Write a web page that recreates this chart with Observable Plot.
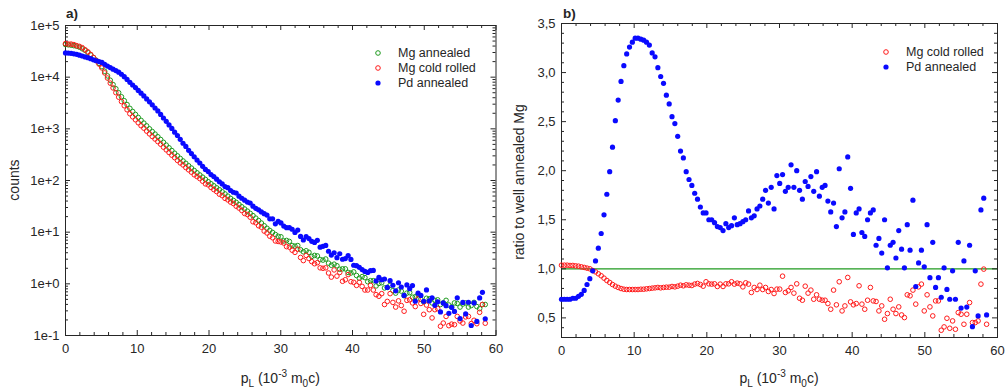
<!DOCTYPE html>
<html>
<head>
<meta charset="utf-8">
<style>
  html, body { margin: 0; padding: 0; background: #fff; }
  #chart { display: flex; width: 1008px; height: 391px; }
</style>
<script src="https://cdn.jsdelivr.net/npm/d3@7"></script>
<script src="https://cdn.jsdelivr.net/npm/@observablehq/plot@0.6"></script>
</head>
<body>
<div id="chart"></div>
<script>
// ---------------- data ----------------
// momentum channel width (10^-3 m0c); point i sits at p = i * channelWidth
const channelWidth = 0.39;

// panel a) counts
const mgAnnealed = [
  4.27e4, 4.23e4, 4.17e4, 4.07e4, 3.98e4, 3.80e4, 3.55e4, 3.31e4, 3.02e4, 2.69e4,
  2.40e4, 2.12e4, 1.85e4, 1.60e4, 1.30e4, 1.06e4, 8710, 7190, 5970, 4990,
  4170, 3500, 2950, 2490, 2170, 1900, 1660, 1460, 1290, 1140,
  1000, 887, 791, 703, 622, 548, 484, 429, 380, 337,
  300, 267, 239, 215, 193, 174, 156, 141, 128, 116,
  105, 94.8, 86.5, 79.1, 72.1, 66.2, 60.4, 55.0, 49.8, 45.1,
  41.2, 37.7, 34.3, 31.0, 28.1, 25.5, 23.1, 20.9, 18.7, 16.8,
  15.0, 13.3, 11.9, 10.8, 9.89, 9.02, 8.32, 8.13, 6.76, 6.92,
  6.61, 5.50, 5.37, 5.50, 4.57, 4.17, 4.37, 4.07, 3.39, 3.55,
  3.47, 2.95, 2.88, 3.02, 2.51, 2.29, 2.40, 2.24, 1.91, 1.95,
  1.95, 1.66, 1.62, 1.70, 1.45, 1.29, 1.38, 1.32, 1.10, 1.15,
  1.15, 0.912, 1.02, 1.05, 0.832, 0.851, 0.933, 0.741, 0.661, 0.759,
  0.724, 0.589, 0.661, 0.676, 0.550, 0.562, 0.617, 0.501, 0.447, 0.525,
  0.513, 0.427, 0.479, 0.490, 0.398, 0.427, 0.479, 0.389, 0.355, 0.427,
  0.417, 0.355, 0.407, 0.427, 0.355, 0.380, 0.437, 0.363, 0.331, 0.398,
  0.398
];
const mgColdRolled = [
  4.47e4, 4.37e4, 4.37e4, 4.27e4, 4.07e4, 3.94e4, 3.72e4, 3.39e4, 3.09e4, 2.75e4,
  2.40e4, 2.09e4, 1.79e4, 1.51e4, 1.21e4, 9620, 7670, 6190, 5010, 4100,
  3370, 2800, 2340, 1960, 1710, 1500, 1310, 1150, 1030, 904,
  800, 710, 635, 566, 504, 442, 392, 348, 309, 277,
  245, 219, 200, 178, 161, 145, 129, 119, 109, 97.0,
  86.1, 82.4, 73.3, 66.7, 61.1, 54.3, 50.9, 45.1, 42.2, 38.2,
  35.8, 31.8, 29.3, 26.3, 23.0, 21.9, 19.5, 15.9, 15.2, 13.3,
  12.5, 10.5, 9.64, 8.34, 7.80, 6.75, 6.61, 6.46, 6.17, 5.25,
  5.13, 4.47, 4.07, 4.68, 3.24, 2.82, 3.55, 3.09, 2.69, 2.45,
  2.57, 2.04, 2.00, 2.04, 1.62, 1.35, 1.86, 1.41, 1.66, 1.12,
  1.20, 1.51, 1.10, 1.07, 0.933, 1.07, 0.891, 0.759, 0.759, 0.933,
  0.759, 0.617, 0.575, 0.646, 0.398, 0.457, 0.646, 0.437, 0.355, 0.468,
  0.380, 0.295, 0.479, 0.490, 0.427, 0.363, 0.513, 0.417, 0.257, 0.389,
  0.316, 0.219, 0.316, 0.331, 0.151, 0.174, 0.234, 0.155, 0.166, 0.162,
  0.234, 0.191, 0.174, 0.229, 0.234, 0.170, 0.197, 0.169, 0.281, 0.397,
  0.173
];
const pdAnnealed = [
  2.94e4, 2.92e4, 2.89e4, 2.83e4, 2.77e4, 2.67e4, 2.57e4, 2.46e4, 2.38e4, 2.28e4,
  2.17e4, 2.08e4, 2.00e4, 1.93e4, 1.77e4, 1.64e4, 1.53e4, 1.43e4, 1.34e4, 1.25e4,
  1.14e4, 1.02e4, 9060, 7940, 7060, 6280, 5550, 4900, 4330, 3790,
  3330, 2910, 2530, 2220, 1900, 1620, 1400, 1190, 1020, 861,
  743, 627, 526, 457, 384, 332, 288, 249, 218, 188,
  164, 149, 130, 119, 106, 94.6, 85.7, 76.4, 72.6, 64.0,
  59.3, 57.3, 49.7, 45.3, 41.6, 38.3, 36.7, 31.8, 28.9, 27.1,
  24.6, 22.8, 21.4, 18.1, 18.1, 14.5, 16.2, 15.1, 13.1, 12.2,
  12.2, 11.4, 9.86, 11.0, 8.28, 7.05, 8.18, 7.50, 6.64, 6.34,
  6.95, 5.12, 5.31, 5.55, 4.27, 3.60, 4.00, 3.21, 3.82, 2.99,
  3.08, 3.52, 2.97, 2.29, 2.25, 2.09, 1.89, 1.74, 1.66, 1.80,
  1.82, 1.14, 1.33, 1.20, 1.24, 0.853, 1.15, 0.938, 0.731, 1.05,
  0.869, 0.597, 0.951, 0.807, 0.925, 0.461, 0.659, 0.596, 0.459, 0.762,
  0.466, 0.538, 0.384, 0.450, 0.286, 0.428, 0.378, 0.269, 0.351, 0.293,
  0.535, 0.213, 0.436, 0.261, 0.440, 0.156, 0.428, 0.187, 0.533, 0.685,
  0.211
];

// panel b) ratio to well annealed Mg
const ratioMgColdRolled = [
  1.037, 1.037, 1.037, 1.034, 1.034, 1.03, 1.027, 1.02, 1.014, 1.007,
  1.0, 0.983, 0.969, 0.949, 0.929, 0.905, 0.881, 0.861, 0.84, 0.823,
  0.81, 0.799, 0.792, 0.789, 0.789, 0.789, 0.789, 0.789, 0.792, 0.792,
  0.796, 0.799, 0.803, 0.806, 0.81, 0.806, 0.81, 0.813, 0.813, 0.82,
  0.816, 0.823, 0.833, 0.827, 0.837, 0.833, 0.83, 0.844, 0.851, 0.84,
  0.823, 0.868, 0.847, 0.844, 0.847, 0.82, 0.844, 0.82, 0.847, 0.847,
  0.868, 0.844, 0.854, 0.847, 0.816, 0.857, 0.844, 0.759, 0.81, 0.789,
  0.833, 0.789, 0.81, 0.769, 0.789, 0.748, 0.793, 0.793, 0.925, 0.759,
  0.776, 0.81, 0.752, 0.847, 0.70, 0.68, 0.823, 0.752, 0.783, 0.69,
  0.735, 0.69, 0.68, 0.68, 0.646, 0.588, 0.783, 0.633, 0.868, 0.571,
  0.622, 0.912, 0.663, 0.633, 0.646, 0.827, 0.64, 0.588, 0.68, 0.81,
  0.673, 0.667, 0.571, 0.622, 0.486, 0.544, 0.69, 0.588, 0.544, 0.612,
  0.53, 0.503, 0.735, 0.725, 0.783, 0.64, 0.816, 0.844, 0.571, 0.735,
  0.612, 0.52, 0.673, 0.673, 0.374, 0.408, 0.496, 0.394, 0.469, 0.384,
  0.554, 0.537, 0.435, 0.537, 0.656, 0.452, 0.452, 0.469, 0.844, 0.997,
  0.435
];
const ratioPdAnnealed = [
  0.69, 0.69, 0.69, 0.69, 0.70, 0.70, 0.72, 0.74, 0.78, 0.84,
  0.90, 0.98, 1.08, 1.21, 1.36, 1.55, 1.76, 1.99, 2.24, 2.51,
  2.72, 2.91, 3.07, 3.19, 3.26, 3.31, 3.35, 3.35, 3.34, 3.33,
  3.31, 3.28, 3.20, 3.16, 3.05, 2.96, 2.89, 2.77, 2.68, 2.55,
  2.48, 2.35, 2.20, 2.13, 1.99, 1.91, 1.85, 1.77, 1.71, 1.63,
  1.57, 1.57, 1.50, 1.50, 1.47, 1.43, 1.42, 1.39, 1.46, 1.42,
  1.44, 1.52, 1.45, 1.46, 1.48, 1.50, 1.59, 1.52, 1.54, 1.61,
  1.64, 1.71, 1.80, 1.67, 1.83, 1.61, 1.95, 1.87, 1.96, 1.79,
  1.83, 2.06, 1.83, 2.00, 1.80, 1.71, 1.89, 1.84, 1.94, 1.79,
  1.99, 1.74, 1.83, 1.85, 1.69, 1.58, 1.67, 1.43, 2.02, 1.52,
  1.58, 2.14, 1.82, 1.35, 1.57, 1.61, 1.37, 1.33, 1.50, 1.57,
  1.60, 1.24, 1.31, 1.16, 1.50, 1.01, 1.24, 1.27, 1.11, 1.39,
  1.20, 1.01, 1.45, 1.19, 1.70, 0.82, 1.06, 1.19, 1.02, 1.45,
  0.91, 1.27, 0.81, 0.91, 0.71, 1.01, 0.79, 0.69, 0.98, 0.69,
  1.27, 0.60, 1.08, 0.61, 1.24, 0.41, 0.98, 0.52, 1.60, 1.72,
  0.53
];

// tick labels
const momentumTicks = [0, 10, 20, 30, 40, 50, 60];
const countTicks = [1e-1, 1e0, 1e1, 1e2, 1e3, 1e4, 1e5];
const ratioTicks = [0.5, 1.0, 1.5, 2.0, 2.5, 3.0, 3.5];
const referenceRatio = [1.0];

const seriesNamesA = ["Mg annealed", "Mg cold rolled", "Pd annealed"];
const seriesNamesB = ["Mg cold rolled", "Pd annealed"];

// ---------------- styling ----------------
const GREEN = "#1f9a1f", RED = "#ff1a1a", BLUE = "#0a0aff", INK = "#262626";
const FONT = "Arial, 'Liberation Sans', Helvetica, sans-serif";
const W = 504, H = 391;

const momentum = mgAnnealed.map((_, i) => +(i * channelWidth).toFixed(2));
const rowsA = momentum.map((p, i) => ({p, mgA: mgAnnealed[i], mgC: mgColdRolled[i], pd: pdAnnealed[i]}));
const rowsB = momentum.map((p, i) => ({p, mgC: ratioMgColdRolled[i], pd: ratioPdAnnealed[i]}));

const xMinor = d3.range(0, 61, 2).filter(v => v % 10 !== 0);
const logMinor = [];
for (let e = -1; e < 5; e++) for (let m = 2; m <= 9; m++) logMinor.push(m * Math.pow(10, e));
const ratioMinor = d3.range(3, 36).filter(k => k % 5 !== 0).map(k => k / 10);

function frameTicks(xMaj, xMin, yMaj, yMin, fw, fh) {
  const big = 5, small = 3, o = {stroke: INK, strokeWidth: 1};
  return [
    Plot.tickX(xMaj, {x: d => d, insetTop: fh - big, ...o}),
    Plot.tickX(xMaj, {x: d => d, insetBottom: fh - big, ...o}),
    Plot.tickX(xMin, {x: d => d, insetTop: fh - small, ...o}),
    Plot.tickX(xMin, {x: d => d, insetBottom: fh - small, ...o}),
    Plot.tickY(yMaj, {y: d => d, insetRight: fw - big, ...o}),
    Plot.tickY(yMaj, {y: d => d, insetLeft: fw - big, ...o}),
    Plot.tickY(yMin, {y: d => d, insetRight: fw - small, ...o}),
    Plot.tickY(yMin, {y: d => d, insetLeft: fw - small, ...o}),
    Plot.frame({stroke: INK, strokeWidth: 1})
  ];
}

function xTitle(svg, cx) {
  const t = svg.append("text").attr("x", cx).attr("y", 383).attr("text-anchor", "middle")
    .attr("fill", INK).style("font-size", "14px").style("font-family", FONT);
  t.append("tspan").text("p");
  t.append("tspan").attr("dy", 4).style("font-size", "10px").text("L");
  t.append("tspan").attr("dy", -4).text(" (10");
  t.append("tspan").attr("dy", -6).style("font-size", "10px").text("-3");
  t.append("tspan").attr("dy", 6).text(" m");
  t.append("tspan").attr("dy", 4).style("font-size", "10px").text("0");
  t.append("tspan").attr("dy", -4).text("c)");
}
function yTitle(svg, x, cy, text) {
  svg.append("text").attr("transform", `translate(${x},${cy}) rotate(-90)`).attr("text-anchor", "middle")
    .attr("fill", INK).style("font-size", "14px").style("font-family", FONT).text(text);
}
function panelTag(svg, x, text) {
  svg.append("text").attr("x", x).attr("y", 18).attr("text-anchor", "start").attr("fill", INK)
    .style("font-size", "13.5px").style("font-weight", "bold").style("font-family", FONT).text(text);
}
function legend(svg, x, y0, names, styles) {
  names.forEach((name, k) => {
    const y = y0 + k * 15, s = styles[k];
    svg.append("circle").attr("cx", x).attr("cy", y).attr("r", s.filled ? 2.6 : 2.3)
      .attr("fill", s.filled ? s.color : "none").attr("stroke", s.filled ? "none" : s.color).attr("stroke-width", 1);
    svg.append("text").attr("x", x + 20).attr("y", y).attr("dy", "0.35em").attr("text-anchor", "start")
      .attr("fill", INK).style("font-size", "12.5px").style("font-family", FONT).text(name);
  });
}

// ---------------- panel a ----------------
const mA = {left: 65, right: 8.5, top: 25, bottom: 56};
const fwA = W - mA.left - mA.right, fhA = H - mA.top - mA.bottom;
const plotA = Plot.plot({
  width: W, height: H,
  marginLeft: mA.left, marginRight: mA.right, marginTop: mA.top, marginBottom: mA.bottom,
  style: {fontFamily: FONT, fontSize: "13px", color: INK, background: "#fff"},
  x: {domain: [0, 60], ticks: momentumTicks, tickSize: 0, tickPadding: 8, label: null},
  y: {type: "log", domain: [0.1, 1e5], ticks: countTicks, tickFormat: d => d.toExponential(0),
      tickSize: 0, tickPadding: 6, label: null},
  marks: [
    ...frameTicks(momentumTicks, xMinor, countTicks, logMinor, fwA, fhA),
    Plot.dot(rowsA, {x: "p", y: "mgA", r: 2.3, stroke: GREEN, fill: "none", strokeWidth: 1}),
    Plot.dot(rowsA, {x: "p", y: "mgC", r: 2.3, stroke: RED, fill: "none", strokeWidth: 1}),
    Plot.dot(rowsA, {x: "p", y: "pd", r: 2.6, fill: BLUE, stroke: "none"})
  ]
});

// ---------------- panel b ----------------
const mB = {left: 57, right: 11, top: 23, bottom: 54};
const fwB = W - mB.left - mB.right, fhB = H - mB.top - mB.bottom;
const plotB = Plot.plot({
  width: W, height: H,
  marginLeft: mB.left, marginRight: mB.right, marginTop: mB.top, marginBottom: mB.bottom,
  style: {fontFamily: FONT, fontSize: "13px", color: INK, background: "#fff"},
  x: {domain: [0, 60], ticks: momentumTicks, tickSize: 0, tickPadding: 8, label: null},
  y: {domain: [0.3, 3.5], ticks: ratioTicks, tickFormat: d => d.toFixed(1).replace(".", ","),
      tickSize: 0, tickPadding: 6, label: null},
  marks: [
    Plot.ruleY(referenceRatio, {y: d => d, stroke: GREEN, strokeWidth: 1.2}),
    ...frameTicks(momentumTicks, xMinor, ratioTicks, ratioMinor, fwB, fhB),
    Plot.dot(rowsB, {x: "p", y: "mgC", r: 2.3, stroke: RED, fill: "none", strokeWidth: 1}),
    Plot.dot(rowsB, {x: "p", y: "pd", r: 2.6, fill: BLUE, stroke: "none"})
  ]
});

const host = document.getElementById("chart");
host.append(plotA, plotB);

const sA = d3.select(plotA), sB = d3.select(plotB);
panelTag(sA, 66, "a)");
panelTag(sB, 59, "b)");
yTitle(sA, 19, 180, "counts");
yTitle(sB, 20, 182, "ratio to well annealed Mg");
xTitle(sA, mA.left + fwA / 2);
xTitle(sB, mB.left + fwB / 2);
legend(sA, 378, 53, seriesNamesA, [{color: GREEN}, {color: RED}, {color: BLUE, filled: true}]);
legend(sB, 382, 52, seriesNamesB, [{color: RED}, {color: BLUE, filled: true}]);
</script>
</body>
</html>
